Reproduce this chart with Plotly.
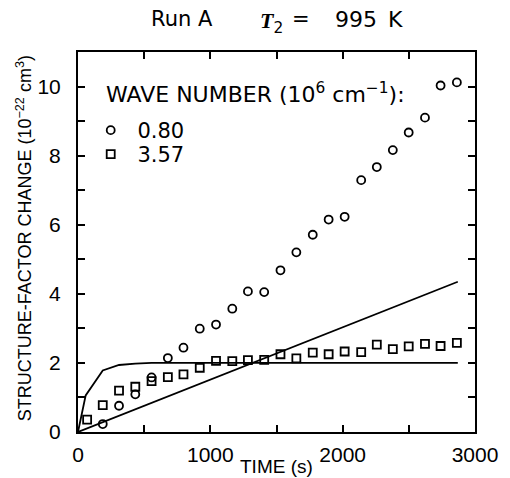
import plotly.graph_objects as go

# Measured structure-factor change (10^-22 cm^3) versus annealing time (s)
time_k080 = [187, 310, 433, 556, 679, 797, 920, 1043, 1166, 1284, 1407, 1530,
             1650, 1774, 1894, 2015, 2140, 2258, 2379, 2499, 2622, 2740, 2863]
sf_k080 = [0.23, 0.76, 1.09, 1.58, 2.14, 2.44, 2.99, 3.11, 3.57, 4.07, 4.05, 4.68,
           5.20, 5.71, 6.15, 6.23, 7.29, 7.67, 8.16, 8.67, 9.10, 10.03, 10.12]

time_k357 = [69, 187, 310, 433, 556, 679, 797, 920, 1043, 1166, 1284, 1407,
             1530, 1650, 1774, 1894, 2015, 2140, 2258, 2379, 2499, 2622, 2740, 2863]
sf_k357 = [0.36, 0.78, 1.20, 1.31, 1.47, 1.59, 1.67, 1.86, 2.06, 2.05, 2.08, 2.09,
           2.25, 2.13, 2.30, 2.25, 2.33, 2.31, 2.53, 2.40, 2.48, 2.55, 2.49, 2.58]

# Model curves
time_lin = [0, 2870]
sf_lin = [0.0, 4.35]
time_sat = [0, 58, 187, 310, 433, 556, 2870]
sf_sat = [0.0, 1.06, 1.78, 1.94, 1.98, 2.0, 2.0]

x_ticks = [0, 500, 1000, 1500, 2000, 2500, 3000]
x_ticktext = ["0", "", "1000", "", "2000", "", "3000"]
y_ticks = list(range(0, 12))
y_ticktext = [str(v) if v % 2 == 0 else "" for v in y_ticks]

FONT = "Liberation Sans, Arial, sans-serif"
WIDE = "DejaVu Sans, Verdana, sans-serif"

# plot-area geometry in pixels
L, R, T, B = 78, 26, 52, 46
PW, PH = 510 - L - R, 478 - T - B

fig = go.Figure()
fig.add_trace(go.Scatter(x=time_lin, y=sf_lin, mode="lines",
                         line=dict(color="black", width=1.8), showlegend=False))
fig.add_trace(go.Scatter(x=time_sat, y=sf_sat, mode="lines",
                         line=dict(color="black", width=1.8), showlegend=False))
fig.add_trace(go.Scatter(x=time_k080, y=sf_k080, mode="markers", name=" 0.80",
                         legend="legend",
                         marker=dict(symbol="circle-open", size=8, color="black",
                                     line=dict(width=1.8, color="black"))))
fig.add_trace(go.Scatter(x=time_k357, y=sf_k357, mode="markers", name=" 3.57",
                         legend="legend2",
                         marker=dict(symbol="square-open", size=8, color="black",
                                     line=dict(width=1.8, color="black"))))

axis_common = dict(
    showgrid=False, zeroline=False, showline=True, linecolor="black", linewidth=2,
    mirror="allticks", ticks="inside", ticklen=7, tickwidth=1.5, tickcolor="black",
    tickfont=dict(family=FONT, size=21, color="black"),
)

fig.update_xaxes(range=[0, 3000], tickmode="array", tickvals=x_ticks,
                 ticktext=x_ticktext, ticklabelstandoff=3, **axis_common)
fig.update_yaxes(range=[0, 11], tickmode="array", tickvals=y_ticks,
                 ticktext=y_ticktext, ticklabelstandoff=11, **axis_common)


def top_text(text, left_px, yshift=33, size=21):
    return dict(text=text, x=0, xshift=left_px - L, xanchor="left",
                y=1, yshift=yshift, yanchor="middle",
                font=dict(family=WIDE, size=size, color="black"))


annotations = [
    top_text("Run", 149),
    top_text("A", 196),
    top_text('<span style="font-family:Liberation Serif"><b><i>T</i></b></span>'
             '<sub>2</sub>', 258, yshift=30, size=22),
    top_text("=", 290),
    top_text("995", 333, size=22),
    top_text("K", 386, size=22),
    dict(text="WAVE NUMBER (10<sup>6</sup> cm<sup>\u22121</sup>):",
         x=0, xshift=104 - L, xanchor="left", y=1, yshift=-41, yanchor="middle",
         font=dict(family=WIDE, size=22, color="black")),
    dict(text="TIME (s)", x=0.5, xanchor="center", y=0, yshift=-34,
         yanchor="middle", font=dict(family=FONT, size=19, color="black")),
    dict(text="STRUCTURE-FACTOR CHANGE (10<sup>\u221222</sup> cm<sup>3</sup>)",
         x=0, xshift=-54, xanchor="center", y=0.51, yanchor="middle",
         textangle=-90, font=dict(family=FONT, size=18, color="black")),
]
for a in annotations:
    a.setdefault("xref", "paper")
    a.setdefault("yref", "paper")
    a.setdefault("showarrow", False)

legend_common = dict(xanchor="left", yanchor="top", bgcolor="rgba(0,0,0,0)",
                     borderwidth=0, font=dict(family=WIDE, size=21, color="black"))

fig.update_layout(
    width=510, height=478,
    margin=dict(l=L, r=R, t=T, b=B),
    paper_bgcolor="white", plot_bgcolor="white",
    font=dict(family=FONT, size=21, color="black"),
    annotations=annotations,
    showlegend=True,
    legend=dict(x=(91 - L) / PW, y=1 - (110 - T) / PH, **legend_common),
    legend2=dict(x=(91 - L) / PW, y=1 - (134 - T) / PH, **legend_common),
)

fig.write_html("out.html")
